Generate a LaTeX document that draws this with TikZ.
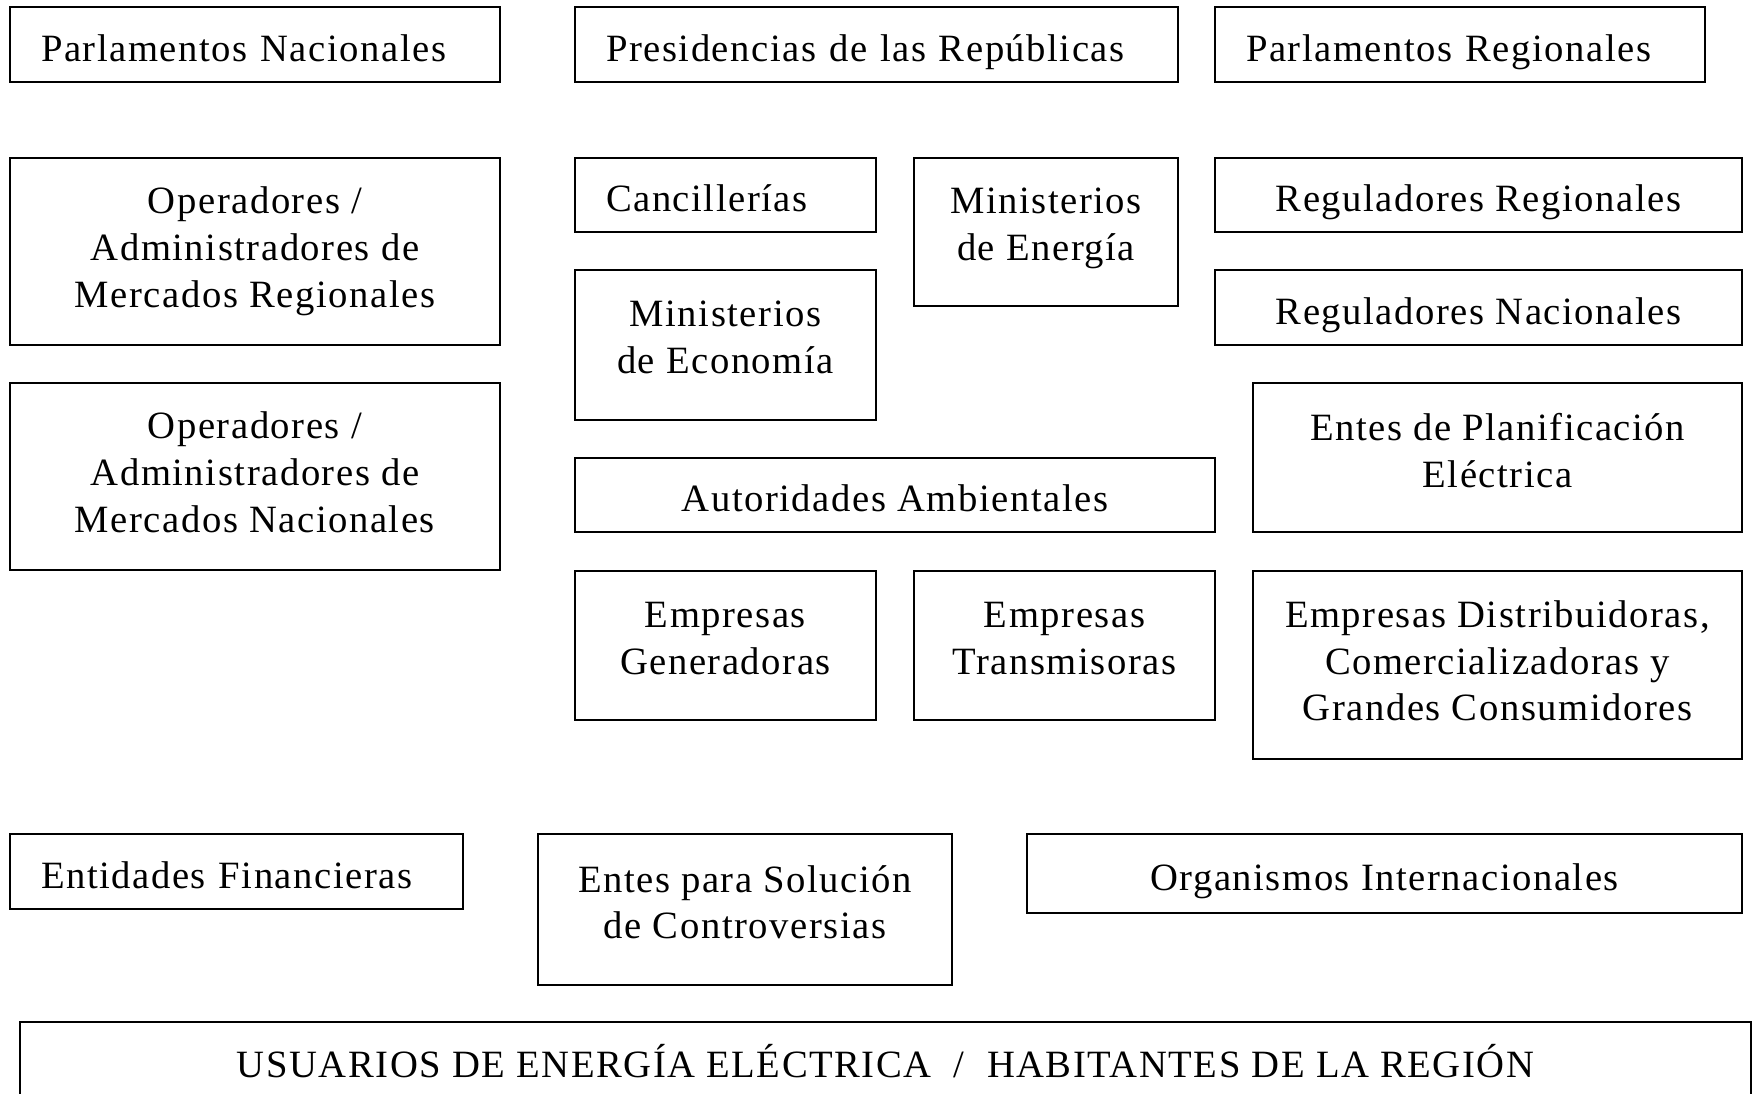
\documentclass[tikz,border=0pt]{standalone}
\usepackage{fontspec}
\setmainfont{Liberation Serif}
\newfontfamily\cajafont[LetterSpace=4]{Liberation Serif}

\tikzset{
  caja/.style={draw, line width=1.5pt, inner sep=0pt, align=center,
    font=\cajafont\fontsize{22}{26.7}\selectfont},
  una/.style={text height=20pt, text depth=1.2pt},
  izq/.style={una, align=left, inner xsep=0.62cm, text width=#1},
  prof/.style={execute at end node={\rule[-#1]{0pt}{#1}}}
}

\begin{document}
\begin{tikzpicture}[x=0.02cm, y=-0.02cm]
  \useasboundingbox (0,0) rectangle (1757,1094);

  % Fila superior
  \node[caja, izq=8.56cm, minimum width=9.8cm, minimum height=1.5cm] (parlNac) at (255,44.5) {Parlamentos Nacionales};
  \node[caja, izq=10.82cm, minimum width=12.06cm, minimum height=1.5cm] (presid) at (876.5,44.5) {Presidencias de las Repúblicas};
  \node[caja, izq=8.56cm, minimum width=9.8cm, minimum height=1.5cm] (parlReg) at (1460,44.5) {Parlamentos Regionales};

  % Operadores de mercado
  \node[caja, prof=5pt, minimum width=9.8cm, minimum height=3.74cm] (opReg) at (255,251.5) {Operadores /\\Administradores de\\Mercados Regionales};
  \node[caja, prof=5pt, minimum width=9.8cm, minimum height=3.74cm] (opNac) at (255,476.5) {Operadores /\\Administradores de\\Mercados Nacionales};

  % Gobiernos
  \node[caja, izq=4.78cm, minimum width=6.02cm, minimum height=1.48cm] (canc) at (725.5,195) {Cancillerías};
  \node[caja, prof=8.5pt, minimum width=5.28cm, minimum height=2.96cm] (minEner) at (1046,232) {Ministerios\\de Energía};
  \node[caja, prof=8.5pt, minimum width=6.02cm, minimum height=3.0cm] (minEco) at (725.5,345) {Ministerios\\de Economía};
  \node[caja, una, minimum width=12.8cm, minimum height=1.48cm] (ambient) at (895,495) {Autoridades Ambientales};

  % Reguladores y planificacion
  \node[caja, una, minimum width=10.54cm, minimum height=1.48cm] (regReg) at (1478.5,195) {Reguladores Regionales};
  \node[caja, una, minimum width=10.54cm, minimum height=1.5cm] (regNac) at (1478.5,307.5) {Reguladores Nacionales};
  \node[caja, prof=8.5pt, minimum width=9.78cm, minimum height=2.98cm] (planif) at (1497.5,457.5) {Entes de Planificación\\Eléctrica};

  % Empresas
  \node[caja, prof=8.5pt, minimum width=6.02cm, minimum height=2.98cm] (gener) at (725.5,645.5) {Empresas\\Generadoras};
  \node[caja, prof=8.5pt, minimum width=6.02cm, minimum height=2.98cm] (transm) at (1064.5,645.5) {Empresas\\Transmisoras};
  \node[caja, prof=5pt, minimum width=9.78cm, minimum height=3.76cm] (distrib) at (1497.5,665) {Empresas Distribuidoras,\\Comercializadoras y\\Grandes Consumidores};

  % Otros actores
  \node[caja, izq=7.82cm, minimum width=9.06cm, minimum height=1.5cm] (financ) at (236.5,871.5) {Entidades Financieras};
  \node[caja, prof=8.5pt, minimum width=8.28cm, minimum height=3.02cm] (controv) at (745,909.5) {Entes para Solución\\de Controversias};
  \node[caja, una, minimum width=14.3cm, minimum height=1.58cm] (organ) at (1384.5,873.5) {Organismos Internacionales};

  % Usuarios
  \node[caja, una, text height=17pt, minimum width=34.62cm, minimum height=1.68cm] (usuarios) at (885.5,1064) {USUARIOS DE ENERGÍA ELÉCTRICA \ / \ HABITANTES DE LA REGIÓN};
\end{tikzpicture}
\end{document}
